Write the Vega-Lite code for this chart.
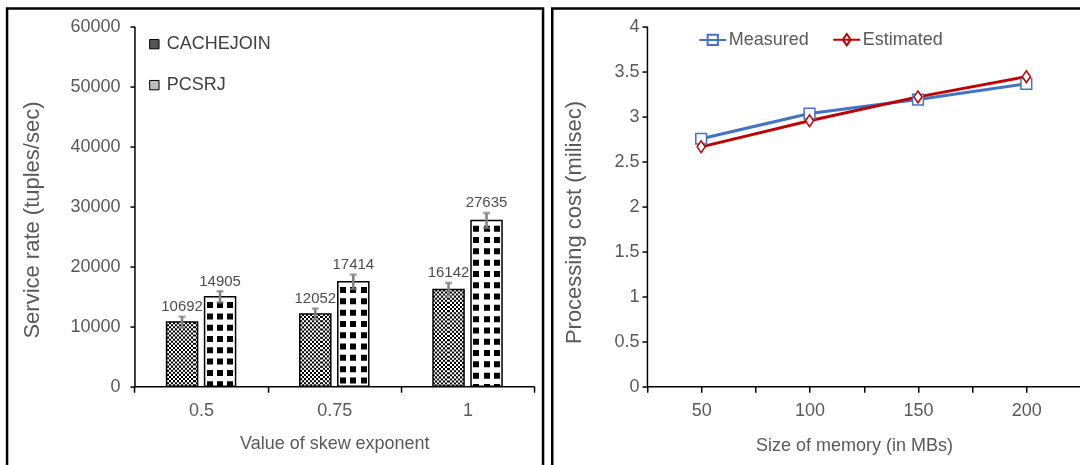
{
  "$schema": "https://vega.github.io/schema/vega-lite/v6.json",
  "background": "white",
  "padding": {"left": 5.05, "top": 6.55, "right": 0, "bottom": 0},
  "spacing": 5.2,
  "config": {
    "font": "Liberation Sans",
    "view": {"stroke": "#000", "strokeWidth": 2.5},
    "axis": {"grid": false}
  },
  "hconcat": [
    {
      "width": 536,
      "height": 470,
      "data": {"values": [
        {"skew": "0.5", "algo": "CACHEJOIN", "rate": 10692, "lo": 9790, "hi": 11590},
        {"skew": "0.5", "algo": "PCSRJ", "rate": 14905, "lo": 13975, "hi": 15835},
        {"skew": "0.75", "algo": "CACHEJOIN", "rate": 12052, "lo": 11150, "hi": 12950},
        {"skew": "0.75", "algo": "PCSRJ", "rate": 17414, "lo": 16214, "hi": 18614},
        {"skew": "1", "algo": "CACHEJOIN", "rate": 16142, "lo": 15062, "hi": 17222},
        {"skew": "1", "algo": "PCSRJ", "rate": 27635, "lo": 26385, "hi": 28885}
      ]},
      "encoding": {
        "x": {
          "field": "skew", "type": "nominal",
          "scale": {"domain": ["0.5", "0.75", "1"], "range": [127.4, 527.1], "paddingInner": 0, "paddingOuter": 0},
          "axis": {
            "orient": "bottom", "offset": -92.3, "tickBand": "extent", "labelAngle": 0,
            "domainColor": "#000", "domainWidth": 1.5, "tickColor": "#000", "tickWidth": 1.5, "tickSize": 6,
            "labelFontSize": 18, "labelColor": "#595959", "labelPadding": 9,
            "title": "Value of skew exponent", "titleFontSize": 18, "titleFontWeight": "normal",
            "titleColor": "#595959", "titleY": 62, "titleBaseline": "alphabetic"
          }
        },
        "xOffset": {
          "field": "algo", "type": "nominal",
          "scale": {"domain": ["CACHEJOIN", "PCSRJ"], "paddingInner": 0.184, "paddingOuter": 0.845}
        }
      },
      "layer": [
        {
          "mark": {"type": "bar"},
          "encoding": {
            "y": {
              "field": "rate", "type": "quantitative",
              "scale": {"domain": [0, 60000], "range": [377.7, 17.7], "nice": false},
              "axis": {
                "orient": "left", "offset": -127.4, "values": [0, 10000, 20000, 30000, 40000, 50000, 60000], "format": "d",
                "domainColor": "#000", "domainWidth": 1.5, "tickColor": "#000", "tickWidth": 1.5, "tickSize": 4.5,
                "labelFontSize": 18, "labelColor": "#595959", "labelPadding": 10,
                "title": "Service rate (tuples/sec)", "titleFontSize": 22, "titleFontWeight": "normal",
                "titleColor": "#595959", "titleAngle": 270, "titleBaseline": "alphabetic",
                "titleX": -96, "titleY": 211
              }
            },
            "fill": {
              "field": "algo", "type": "nominal",
              "scale": {"domain": ["CACHEJOIN", "PCSRJ"], "range": ["#555555", "#bdbdbd"]},
              "legend": {
                "orient": "none", "legendX": 138.3, "legendY": 26.6, "direction": "vertical", "title": null,
                "symbolType": "square", "symbolSize": 88, "symbolStrokeColor": "#000", "symbolStrokeWidth": 1,
                "labelFontSize": 18, "labelColor": "#404040", "labelOffset": 3.4, "rowPadding": 23
              }
            }
          }
        },
        {
          "transform": [{"filter": "datum.algo === 'CACHEJOIN'"}],
          "mark": {"type": "bar", "fill": {"gradient": "linear", "x1": 0, "y1": 0, "x2": 1, "y2": 0, "stops": [
            {"offset": 0, "color": "#000"}, {"offset": 0.0667, "color": "#000"},
            {"offset": 0.0667, "color": "#fff"}, {"offset": 0.1333, "color": "#fff"},
            {"offset": 0.1333, "color": "#000"}, {"offset": 0.2, "color": "#000"},
            {"offset": 0.2, "color": "#fff"}, {"offset": 0.2667, "color": "#fff"},
            {"offset": 0.2667, "color": "#000"}, {"offset": 0.3333, "color": "#000"},
            {"offset": 0.3333, "color": "#fff"}, {"offset": 0.4, "color": "#fff"},
            {"offset": 0.4, "color": "#000"}, {"offset": 0.4667, "color": "#000"},
            {"offset": 0.4667, "color": "#fff"}, {"offset": 0.5333, "color": "#fff"},
            {"offset": 0.5333, "color": "#000"}, {"offset": 0.6, "color": "#000"},
            {"offset": 0.6, "color": "#fff"}, {"offset": 0.6667, "color": "#fff"},
            {"offset": 0.6667, "color": "#000"}, {"offset": 0.7333, "color": "#000"},
            {"offset": 0.7333, "color": "#fff"}, {"offset": 0.8, "color": "#fff"},
            {"offset": 0.8, "color": "#000"}, {"offset": 0.8667, "color": "#000"},
            {"offset": 0.8667, "color": "#fff"}, {"offset": 0.9333, "color": "#fff"},
            {"offset": 0.9333, "color": "#000"}, {"offset": 1, "color": "#000"}
          ]}},
          "encoding": {"y": {"field": "rate", "type": "quantitative"}}
        },
        {
          "transform": [{"filter": "datum.algo === 'CACHEJOIN'"}],
          "mark": {"type": "rule", "stroke": "#fff", "strokeWidth": 31, "strokeDash": [2.07, 2.07], "strokeCap": "butt", "blend": "difference"},
          "encoding": {"y": {"field": "rate", "type": "quantitative"}, "y2": {"datum": 0}}
        },
        {
          "transform": [{"filter": "datum.algo === 'PCSRJ'"}],
          "mark": {"type": "bar", "fill": {"gradient": "linear", "x1": 0, "y1": 0, "x2": 1, "y2": 0, "stops": [
            {"offset": 0, "color": "#fff"}, {"offset": 0.071, "color": "#fff"},
            {"offset": 0.071, "color": "#000"}, {"offset": 0.265, "color": "#000"},
            {"offset": 0.265, "color": "#fff"}, {"offset": 0.403, "color": "#fff"},
            {"offset": 0.403, "color": "#000"}, {"offset": 0.597, "color": "#000"},
            {"offset": 0.597, "color": "#fff"}, {"offset": 0.735, "color": "#fff"},
            {"offset": 0.735, "color": "#000"}, {"offset": 0.929, "color": "#000"},
            {"offset": 0.929, "color": "#fff"}, {"offset": 1, "color": "#fff"}
          ]}},
          "encoding": {"y": {"field": "rate", "type": "quantitative"}}
        },
        {
          "transform": [{"filter": "datum.algo === 'PCSRJ'"}],
          "mark": {"type": "rule", "stroke": "#fff", "strokeWidth": 31, "strokeDash": [5.3, 6], "strokeCap": "butt"},
          "encoding": {"y": {"field": "rate", "type": "quantitative"}, "y2": {"datum": 0}}
        },
        {
          "mark": {"type": "bar", "fillOpacity": 0, "stroke": "#000", "strokeWidth": 1.5},
          "encoding": {"y": {"field": "rate", "type": "quantitative"}}
        },
        {
          "mark": {"type": "rule", "stroke": "#808080", "strokeWidth": 2.5},
          "encoding": {"y": {"field": "lo", "type": "quantitative"}, "y2": {"field": "hi"}}
        },
        {
          "mark": {"type": "tick", "color": "#808080", "thickness": 2.5, "size": 7},
          "encoding": {"y": {"field": "hi", "type": "quantitative"}}
        },
        {
          "mark": {"type": "tick", "color": "#808080", "thickness": 2.5, "size": 7},
          "encoding": {"y": {"field": "lo", "type": "quantitative"}}
        },
        {
          "mark": {"type": "text", "baseline": "alphabetic", "dy": -5.5, "font": "Liberation Sans", "fontSize": 15, "fill": "#4d4d4d"},
          "encoding": {
            "y": {"field": "hi", "type": "quantitative"},
            "text": {"field": "rate", "type": "quantitative", "format": "d"}
          }
        }
      ]
    },
    {
      "width": 540,
      "height": 470,
      "data": {"values": [
        {"mem": 50, "series": "Measured", "cost": 2.75},
        {"mem": 100, "series": "Measured", "cost": 3.03},
        {"mem": 150, "series": "Measured", "cost": 3.185},
        {"mem": 200, "series": "Measured", "cost": 3.36},
        {"mem": 50, "series": "Estimated", "cost": 2.66},
        {"mem": 100, "series": "Estimated", "cost": 2.95},
        {"mem": 150, "series": "Estimated", "cost": 3.215},
        {"mem": 200, "series": "Estimated", "cost": 3.44}
      ]},
      "encoding": {
        "x": {
          "field": "mem", "type": "quantitative",
          "scale": {"domain": [25, 225], "range": [94.7, 528.3], "nice": false, "zero": false},
          "axis": {
            "orient": "bottom", "offset": -92.3, "values": [25, 50, 75, 100, 125, 150, 175, 200, 225],
            "labelExpr": "datum.value % 50 === 0 ? datum.label : ''",
            "domainColor": "#000", "domainWidth": 1.5, "tickColor": "#000", "tickWidth": 1.5, "tickSize": 6,
            "labelFontSize": 18, "labelColor": "#595959", "labelPadding": 9,
            "title": "Size of memory (in MBs)", "titleFontSize": 18, "titleFontWeight": "normal",
            "titleColor": "#595959", "titleX": 301.7, "titleY": 64.3, "titleBaseline": "alphabetic"
          }
        },
        "y": {
          "field": "cost", "type": "quantitative",
          "scale": {"domain": [0, 4], "range": [377.7, 17.7], "nice": false},
          "axis": {
            "orient": "left", "offset": -94.7, "values": [0, 0.5, 1, 1.5, 2, 2.5, 3, 3.5, 4], "format": "~g",
            "domainColor": "#000", "domainWidth": 1.5, "tickColor": "#000", "tickWidth": 1.5, "tickSize": 5,
            "labelFontSize": 18, "labelColor": "#595959", "labelPadding": 3,
            "title": "Processing cost (milisec)", "titleFontSize": 22, "titleFontWeight": "normal",
            "titleColor": "#595959", "titleAngle": 270, "titleBaseline": "alphabetic",
            "titleX": -66.3, "titleY": 213.5
          }
        },
        "stroke": {
          "field": "series", "type": "nominal",
          "scale": {"domain": ["Measured", "Estimated"], "range": ["#4472C4", "#C00000"]},
          "legend": {
            "orient": "none", "legendX": 691.2, "legendY": 16.2, "direction": "horizontal", "title": null,
            "symbolSize": 729, "symbolStrokeWidth": 2, "labelFontSize": 18, "labelColor": "#595959",
            "labelOffset": 1.5, "columnPadding": 20,
            "encode": {"symbols": {"update": {
              "shape": {"signal": "datum.value === 'Measured' ? 'M-1,0H1M-0.38,-0.38H0.38V0.38H-0.38Z' : 'M-1,0H1M0,-0.42L0.3,0L0,0.42L-0.3,0Z'"},
              "fill": {"value": "#fff"}
            }}}
          }
        }
      },
      "layer": [
        {
          "mark": {"type": "line", "strokeWidth": 3}
        },
        {
          "transform": [{"filter": "datum.series === 'Measured'"}],
          "mark": {"type": "point", "shape": "square", "filled": true, "fill": "#fff", "strokeWidth": 1.5, "size": 115, "opacity": 1}
        },
        {
          "transform": [{"filter": "datum.series === 'Estimated'"}],
          "mark": {"type": "point", "shape": "M0,-1.1L0.75,0L0,1.1L-0.75,0Z", "filled": true, "fill": "#fff", "strokeWidth": 1.5, "size": 115, "opacity": 1}
        }
      ]
    }
  ]
}
